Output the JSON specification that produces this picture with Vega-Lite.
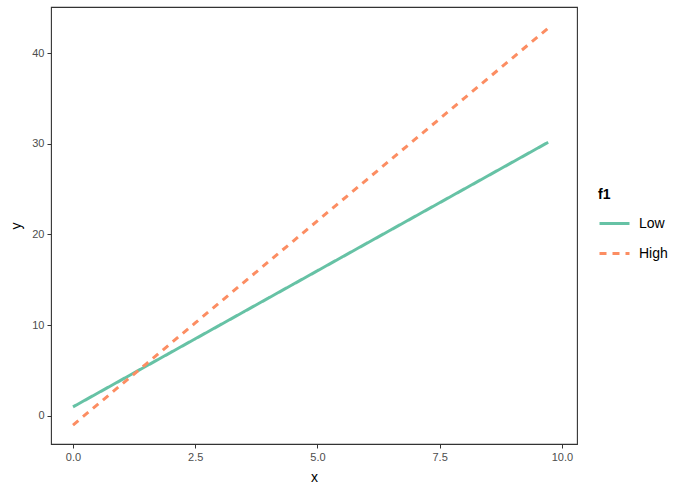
{
  "$schema": "https://vega.github.io/schema/vega-lite/v6.json",
  "width": 526,
  "height": 437,
  "autosize": "none",
  "padding": {"left": 51, "top": 7, "right": 107, "bottom": 45},
  "background": "white",
  "config": {
    "font": "Liberation Sans",
    "view": {"stroke": "#333333", "strokeWidth": 1.1},
    "axis": {
      "grid": false,
      "domain": false,
      "tickColor": "#333333",
      "tickSize": 4,
      "labelColor": "#4D4D4D",
      "labelFontSize": 11,
      "labelPadding": 3,
      "titleFontSize": 14,
      "titleFontWeight": "normal",
      "titleColor": "#000000"
    }
  },
  "data": {
    "values": [
      {"x": 0.0, "y": 1.0, "f1": "Low"},
      {"x": 0.5, "y": 2.5, "f1": "Low"},
      {"x": 1.0, "y": 4.0, "f1": "Low"},
      {"x": 1.5, "y": 5.5, "f1": "Low"},
      {"x": 2.0, "y": 7.0, "f1": "Low"},
      {"x": 2.5, "y": 8.5, "f1": "Low"},
      {"x": 3.0, "y": 10.0, "f1": "Low"},
      {"x": 3.5, "y": 11.5, "f1": "Low"},
      {"x": 4.0, "y": 13.0, "f1": "Low"},
      {"x": 4.5, "y": 14.5, "f1": "Low"},
      {"x": 5.0, "y": 16.0, "f1": "Low"},
      {"x": 5.5, "y": 17.5, "f1": "Low"},
      {"x": 6.0, "y": 19.0, "f1": "Low"},
      {"x": 6.5, "y": 20.5, "f1": "Low"},
      {"x": 7.0, "y": 22.0, "f1": "Low"},
      {"x": 7.5, "y": 23.5, "f1": "Low"},
      {"x": 8.0, "y": 25.0, "f1": "Low"},
      {"x": 8.5, "y": 26.5, "f1": "Low"},
      {"x": 9.0, "y": 28.0, "f1": "Low"},
      {"x": 9.5, "y": 29.5, "f1": "Low"},
      {"x": 9.72, "y": 30.16, "f1": "Low"},
      {"x": 0.0, "y": -1.0, "f1": "High"},
      {"x": 0.5, "y": 1.25, "f1": "High"},
      {"x": 1.0, "y": 3.5, "f1": "High"},
      {"x": 1.5, "y": 5.75, "f1": "High"},
      {"x": 2.0, "y": 8.0, "f1": "High"},
      {"x": 2.5, "y": 10.25, "f1": "High"},
      {"x": 3.0, "y": 12.5, "f1": "High"},
      {"x": 3.5, "y": 14.75, "f1": "High"},
      {"x": 4.0, "y": 17.0, "f1": "High"},
      {"x": 4.5, "y": 19.25, "f1": "High"},
      {"x": 5.0, "y": 21.5, "f1": "High"},
      {"x": 5.5, "y": 23.75, "f1": "High"},
      {"x": 6.0, "y": 26.0, "f1": "High"},
      {"x": 6.5, "y": 28.25, "f1": "High"},
      {"x": 7.0, "y": 30.5, "f1": "High"},
      {"x": 7.5, "y": 32.75, "f1": "High"},
      {"x": 8.0, "y": 35.0, "f1": "High"},
      {"x": 8.5, "y": 37.25, "f1": "High"},
      {"x": 9.0, "y": 39.5, "f1": "High"},
      {"x": 9.5, "y": 41.75, "f1": "High"},
      {"x": 9.72, "y": 42.74, "f1": "High"}
    ]
  },
  "mark": {"type": "line", "strokeWidth": 3, "strokeCap": "butt"},
  "encoding": {
    "x": {
      "field": "x", "type": "quantitative", "title": "x",
      "scale": {"domain": [-0.45, 10.31], "nice": false, "zero": false},
      "axis": {"values": [0, 2.5, 5, 7.5, 10], "format": ".1f", "titlePadding": 8}
    },
    "y": {
      "field": "y", "type": "quantitative", "title": "y",
      "scale": {"domain": [-3.09, 45.07], "nice": false, "zero": false},
      "axis": {"values": [0, 10, 20, 30, 40], "titlePadding": 8}
    },
    "color": {
      "field": "f1", "type": "nominal", "title": "f1",
      "scale": {"domain": ["Low", "High"], "range": ["#66C2A5", "#FC8D62"]},
      "legend": {
        "orient": "none", "legendX": 547, "legendY": 181,
        "titleFontSize": 14, "titleFontWeight": "bold", "titleColor": "#000000",
        "labelFontSize": 14, "labelColor": "#000000",
        "symbolStrokeWidth": 3, "symbolSize": 900, "rowPadding": 6, "labelOffset": 8,
        "titlePadding": 5
      }
    },
    "strokeDash": {
      "field": "f1", "type": "nominal", "title": "f1",
      "scale": {"domain": ["Low", "High"], "range": [[1, 0], [7, 6]]}
    },
    "order": {"field": "x", "type": "quantitative"}
  }
}
